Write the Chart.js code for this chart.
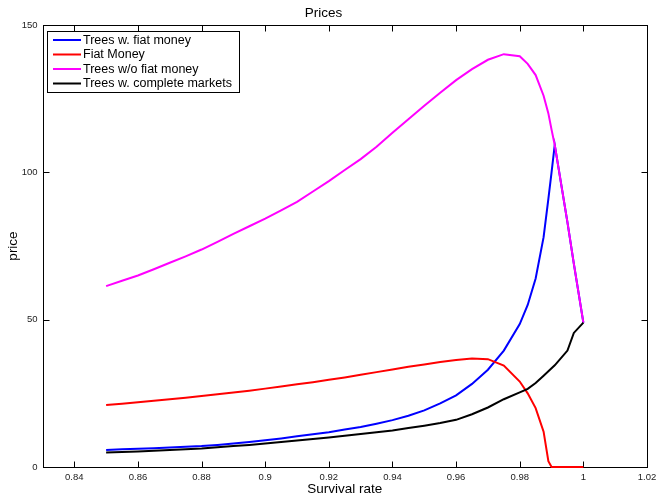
<!DOCTYPE html>
<html>
<head>
<meta charset="utf-8">
<script src="https://cdn.jsdelivr.net/npm/chart.js@4.4.1/dist/chart.umd.min.js"></script>
<style>
  body { margin: 0; background: #fff; }
  canvas { display: block; }
</style>
</head>
<body>
<canvas id="prices" width="658" height="497"></canvas>
<script>
// survival rate grid
const survival = [0.85, 0.855, 0.86, 0.865, 0.87, 0.875, 0.88, 0.885, 0.89, 0.895, 0.9,
  0.905, 0.91, 0.915, 0.92, 0.925, 0.93, 0.935, 0.94, 0.945, 0.95, 0.955, 0.96,
  0.965, 0.97, 0.975, 0.98, 0.9825, 0.985, 0.9875, 0.989, 0.99, 0.991, 0.995, 0.997, 1.0];

const treesFiat = [5.8, 6.0, 6.2, 6.4, 6.6, 6.85, 7.1, 7.5, 8.0, 8.5, 9.1,
  9.7, 10.4, 11.1, 11.8, 12.7, 13.6, 14.7, 15.9, 17.4, 19.2, 21.6, 24.3,
  28.2, 33, 39.5, 48.5, 55, 64, 78, 91, 100, 109.3, 83, 69, 49];
const fiatMoney = [21.0, 21.5, 22.0, 22.5, 23.0, 23.5, 24.1, 24.7, 25.3, 25.9, 26.6,
  27.3, 28.1, 28.8, 29.6, 30.4, 31.3, 32.2, 33.1, 34.0, 34.8, 35.6, 36.3,
  36.8, 36.6, 34.4, 29.0, 25.0, 20, 12, 2, 0, 0, 0, 0, 0];
const treesNoFiat = [61.4, 63.2, 65.0, 67.1, 69.3, 71.5, 73.8, 76.4, 79.1, 81.7, 84.3,
  87.1, 90.0, 93.5, 97.0, 100.8, 104.5, 108.7, 113.4, 118, 122.6, 127, 131.3,
  135, 138.2, 140.1, 139.4, 136.8, 133, 126, 120, 114.5, 109.3, 83, 69, 49];
const treesComplete = [4.9, 5.1, 5.3, 5.55, 5.8, 6.05, 6.3, 6.7, 7.1, 7.5, 8.0,
  8.5, 9.0, 9.5, 10.0, 10.6, 11.2, 11.8, 12.4, 13.2, 14.0, 14.9, 16.0,
  17.9, 20.2, 23.0, 25.3, 26.5, 28.5, 31, 32.5, 33.5, 34.5, 39.5, 45.5, 49];

const xTicks = [0.84, 0.86, 0.88, 0.9, 0.92, 0.94, 0.96, 0.98, 1.0, 1.02];
const yTicks = [0, 50, 100, 150];

const FONT = "'Liberation Sans', Arial, Helvetica, sans-serif";

const pts = (vals) => survival.map((x, i) => ({ x: x, y: vals[i] }));

const series = [
  { label: "Trees w. fiat money", data: treesFiat, color: "#0000ff", order: 4 },
  { label: "Fiat Money", data: fiatMoney, color: "#ff0000", order: 3 },
  { label: "Trees w/o fiat money", data: treesNoFiat, color: "#ff00ff", order: 2 },
  { label: "Trees w. complete markets", data: treesComplete, color: "#000000", order: 1 },
];

// matlab style box with inward ticks
const boxPlugin = {
  id: "box",
  beforeDatasetsDraw(chart) {
    const { ctx, chartArea: a, scales } = chart;
    const L = Math.round(a.left) + 0.5, R = Math.round(a.right) + 0.5;
    const T = Math.round(a.top) + 0.5, B = Math.round(a.bottom) + 0.5;
    ctx.save();
    ctx.strokeStyle = "#000";
    ctx.lineWidth = 1;
    ctx.strokeRect(L, T, R - L, B - T);
    ctx.beginPath();
    xTicks.forEach((v) => {
      const px = Math.round(scales.x.getPixelForValue(v)) + 0.5;
      ctx.moveTo(px, B); ctx.lineTo(px, B - 6);
      ctx.moveTo(px, T); ctx.lineTo(px, T + 6);
    });
    yTicks.forEach((v) => {
      const py = Math.round(scales.y.getPixelForValue(v)) + 0.5;
      ctx.moveTo(L, py); ctx.lineTo(L + 6, py);
      ctx.moveTo(R, py); ctx.lineTo(R - 6, py);
    });
    ctx.stroke();
    ctx.restore();
  },
  afterDraw(chart) {
    // legend box in the upper left corner
    const { ctx } = chart;
    const x0 = 47.5, y0 = 31.5, w = 192, h = 61;
    ctx.save();
    ctx.fillStyle = "#fff";
    ctx.fillRect(x0, y0, w, h);
    ctx.strokeStyle = "#000";
    ctx.lineWidth = 1;
    ctx.strokeRect(x0, y0, w, h);
    ctx.font = "12.5px " + FONT;
    ctx.textBaseline = "middle";
    chart.data.datasets.forEach((ds, i) => {
      const y = 40 + i * 14.5;
      ctx.strokeStyle = ds.borderColor;
      ctx.lineWidth = 2;
      ctx.beginPath();
      ctx.moveTo(53, y); ctx.lineTo(81, y);
      ctx.stroke();
      ctx.fillStyle = "#000";
      ctx.fillText(ds.label, 83, y + 0.5);
    });
    ctx.restore();
  },
};

new Chart(document.getElementById("prices"), {
  type: "line",
  data: {
    datasets: series.map((s) => ({
      label: s.label,
      data: pts(s.data),
      borderColor: s.color,
      backgroundColor: s.color,
      borderWidth: 2,
      pointRadius: 0,
      tension: 0,
      clip: false,
      order: s.order,
    })),
  },
  options: {
    responsive: false,
    animation: false,
    layout: { padding: { left: 0, right: 11, top: 0, bottom: 0 } },
    plugins: {
      legend: { display: false },
      tooltip: { enabled: false },
      title: {
        display: true,
        text: "Prices",
        color: "#000",
        font: { family: FONT, size: 13.5, weight: "normal" },
        padding: { top: 5, bottom: 3.8 },
      },
    },
    scales: {
      x: {
        type: "linear",
        min: 0.83,
        max: 1.02,
        afterBuildTicks: (scale) => {
          scale.ticks = xTicks.map((v) => ({ value: v }));
        },
        afterFit: (scale) => {
          scale.height = 30;
          scale.paddingLeft = 0;
          scale.paddingRight = 0;
        },
        grid: { display: false, drawTicks: false },
        border: { display: false },
        ticks: {
          color: "#222",
          font: { family: FONT, size: 9.5 },
          padding: 5,
          maxRotation: 0,
          autoSkip: false,
          callback: (v) => String(Number(v.toFixed(2))),
        },
        title: {
          display: true,
          text: "Survival rate",
          color: "#000",
          font: { family: FONT, size: 13.5 },
          padding: { top: 0, bottom: 0 },
        },
      },
      y: {
        min: 0,
        max: 150,
        afterBuildTicks: (scale) => {
          scale.ticks = yTicks.map((v) => ({ value: v }));
        },
        afterFit: (scale) => {
          scale.width = 42.5;
          scale.paddingTop = 0;
          scale.paddingBottom = 0;
        },
        grid: { display: false, drawTicks: false },
        border: { display: false },
        ticks: {
          color: "#222",
          font: { family: FONT, size: 9.5 },
          padding: 5,
        },
        title: {
          display: true,
          text: "price",
          color: "#000",
          font: { family: FONT, size: 13.5 },
          padding: { top: 5, bottom: 0 },
        },
      },
    },
  },
  plugins: [boxPlugin],
});
</script>
</body>
</html>
